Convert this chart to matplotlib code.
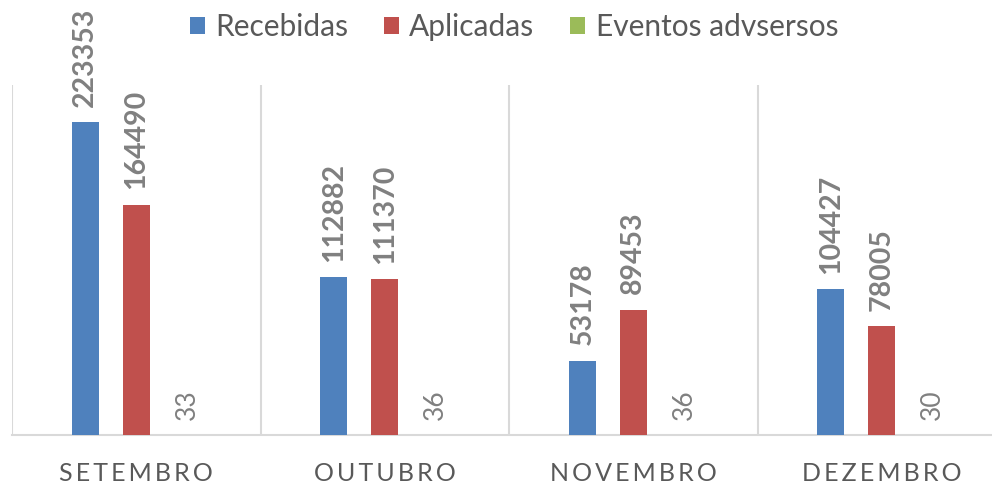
import matplotlib
matplotlib.use("Agg")
import matplotlib.pyplot as plt
import numpy as np

plt.rcParams['font.family'] = ['Lato', 'DejaVu Sans']

categories = ["SETEMBRO", "OUTUBRO", "NOVEMBRO", "DEZEMBRO"]
series_names = ["Recebidas", "Aplicadas", "Eventos advsersos"]
recebidas = [223353, 112882, 53178, 104427]
aplicadas = [164490, 111370, 89453, 78005]
eventos = [33, 36, 36, 30]
colors = ["#4F81BD", "#C0504D", "#9BBB59"]

fig = plt.figure(figsize=(9.92, 4.83), dpi=100)
ax = fig.add_axes([12/992, 48/483, 994/992, 350/483])

x = np.arange(len(categories))
offs = [-0.205, 0.0, 0.205]
w = 0.109
label_color = "#808080"
for i, (vals, name) in enumerate(zip([recebidas, aplicadas, eventos], series_names)):
    bars = ax.bar(x + offs[i], vals, width=w, color=colors[i], label=name, zorder=3)
    if i < 2:
        ax.bar_label(bars, labels=[str(v) for v in vals], rotation=90, padding=11,
                     fontsize=20.5, fontweight='bold', color=label_color)
    else:
        ax.bar_label(bars, labels=[str(v) for v in vals], rotation=90, padding=11,
                     fontsize=19, color=label_color)

ax.set_xlim(-0.5, 3.5)
ax.set_ylim(0, 250000)
ax.set_yticks([])
ax.set_xticks(x)
ax.set_xticklabels([])
ax.tick_params(axis='x', length=0)
for xi, c in zip(x, categories):
    ax.text(xi, -0.131, "\u2009".join(c), transform=ax.get_xaxis_transform(),
            ha='center', va='baseline', fontsize=18, color="#595959")
ax.set_xticks(np.arange(-0.5, 4.0, 1.0), minor=True)
ax.tick_params(axis='x', which='minor', length=0)
ax.grid(axis='x', which='minor', color="#D9D9D9", linewidth=1.5, zorder=0)
for s in ['top', 'right', 'left']:
    ax.spines[s].set_visible(False)
ax.spines['bottom'].set_color("#D9D9D9")
ax.spines['bottom'].set_linewidth(1.5)
ax.set_facecolor('none')

fig.legend(loc='center', bbox_to_anchor=(0.518, 0.944), ncol=3, frameon=False,
           fontsize=21.5, labelcolor="#595959", handlelength=0.5, handleheight=0.5,
           handletextpad=0.35, columnspacing=1.2)

fig.savefig("out.png", dpi=100)
